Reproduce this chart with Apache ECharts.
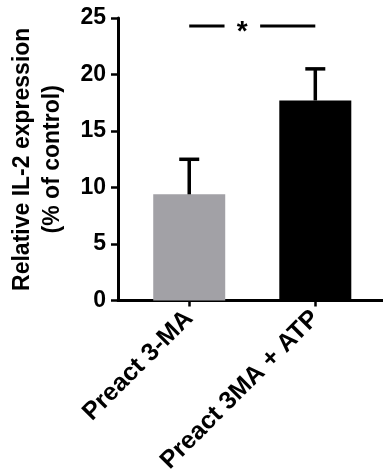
<!DOCTYPE html>
<html>
<head>
<meta charset="utf-8">
<script src="https://cdn.jsdelivr.net/npm/echarts@6/dist/echarts.min.js"></script>
<style>
html,body{margin:0;padding:0;background:#fff;}
#chart{width:383px;height:476px;}
</style>
</head>
<body>
<div id="chart"></div>
<script>
// ---- data ----
var categories = ['Preact 3-MA', 'Preact 3MA + ATP'];
var means = [9.4, 17.7];
var errors = [3.1, 2.8];
var barColors = ['#a2a1a6', '#000000'];
var yTicks = [0, 5, 10, 15, 20, 25];
var sigY = 24.3;            // significance bar level
var sigFrom = 0, sigTo = 1; // compared categories
var sigGap = [0.28, 0.5625]; // gap around the star (x units)
var sigStarX = 0.42;
var sigLabel = '*';

var FONT = 'Arial, "Liberation Sans", sans-serif';
var chart = echarts.init(document.getElementById('chart'));

var barData = means.map(function (m, i) {
  return { value: [i, m], itemStyle: { color: barColors[i] } };
});
var errData = means.map(function (m, i) { return [i, m, m + errors[i]]; });

chart.setOption({
  animation: false,
  grid: { left: 115, right: 0, top: 18, bottom: 172, containLabel: false },
  xAxis: {
    type: 'value',
    min: -0.565,
    max: 1.537,
    splitLine: { show: false },
    axisLine: { show: true, onZero: false, lineStyle: { color: '#000', width: 3 } },
    axisTick: { show: true, customValues: [0, 1], length: 6, lineStyle: { color: '#000', width: 2.5 } },
    axisLabel: {
      customValues: [0, 1],
      formatter: function (v) { return categories[Math.round(v)]; },
      rotate: 45,
      margin: 14,
      color: '#000',
      fontFamily: FONT,
      fontWeight: 'bold',
      fontSize: 25
    }
  },
  yAxis: {
    type: 'value',
    min: yTicks[0],
    max: yTicks[yTicks.length - 1],
    interval: 5,
    name: 'Relative IL-2 expression\n(% of control)',
    nameLocation: 'middle',
    nameRotate: 90,
    nameGap: 50,
    nameTextStyle: { color: '#000', fontFamily: FONT, fontWeight: 'bold', fontSize: 23, lineHeight: 30 },
    splitLine: { show: false },
    axisLine: { show: true, onZero: false, lineStyle: { color: '#000', width: 3 } },
    axisTick: { show: true, length: 7, lineStyle: { color: '#000', width: 2.5 } },
    axisLabel: { margin: 12, color: '#000', fontFamily: FONT, fontWeight: 'bold', fontSize: 23 }
  },
  series: [
    {
      type: 'bar',
      data: barData,
      barWidth: 72,
      z: 2
    },
    {
      type: 'custom',
      z: 3,
      data: errData,
      renderItem: function (params, api) {
        var base = api.coord([api.value(0), api.value(1)]);
        var top = api.coord([api.value(0), api.value(2)]);
        var half = 10;
        return {
          type: 'group',
          children: [
            { type: 'line', shape: { x1: base[0], y1: base[1], x2: top[0], y2: top[1] },
              style: { stroke: '#000', lineWidth: 3.5 } },
            { type: 'line', shape: { x1: top[0] - half, y1: top[1], x2: top[0] + half, y2: top[1] },
              style: { stroke: '#000', lineWidth: 3.5 } }
          ]
        };
      }
    },
    {
      type: 'custom',
      z: 3,
      data: [[sigFrom, sigTo, sigY]],
      renderItem: function (params, api) {
        var a = api.coord([sigFrom, sigY]);
        var g1 = api.coord([sigGap[0], sigY]);
        var g2 = api.coord([sigGap[1], sigY]);
        var b = api.coord([sigTo, sigY]);
        var s = api.coord([sigStarX, sigY]);
        return {
          type: 'group',
          children: [
            { type: 'line', shape: { x1: a[0], y1: a[1], x2: g1[0], y2: g1[1] }, style: { stroke: '#000', lineWidth: 3 } },
            { type: 'line', shape: { x1: g2[0], y1: g2[1], x2: b[0], y2: b[1] }, style: { stroke: '#000', lineWidth: 3 } },
            { type: 'text', x: s[0], y: s[1] + 6,
              style: { text: sigLabel, fill: '#000', font: 'bold 28px ' + FONT, textAlign: 'center', textVerticalAlign: 'middle' } }
          ]
        };
      }
    }
  ]
});
</script>
</body>
</html>
